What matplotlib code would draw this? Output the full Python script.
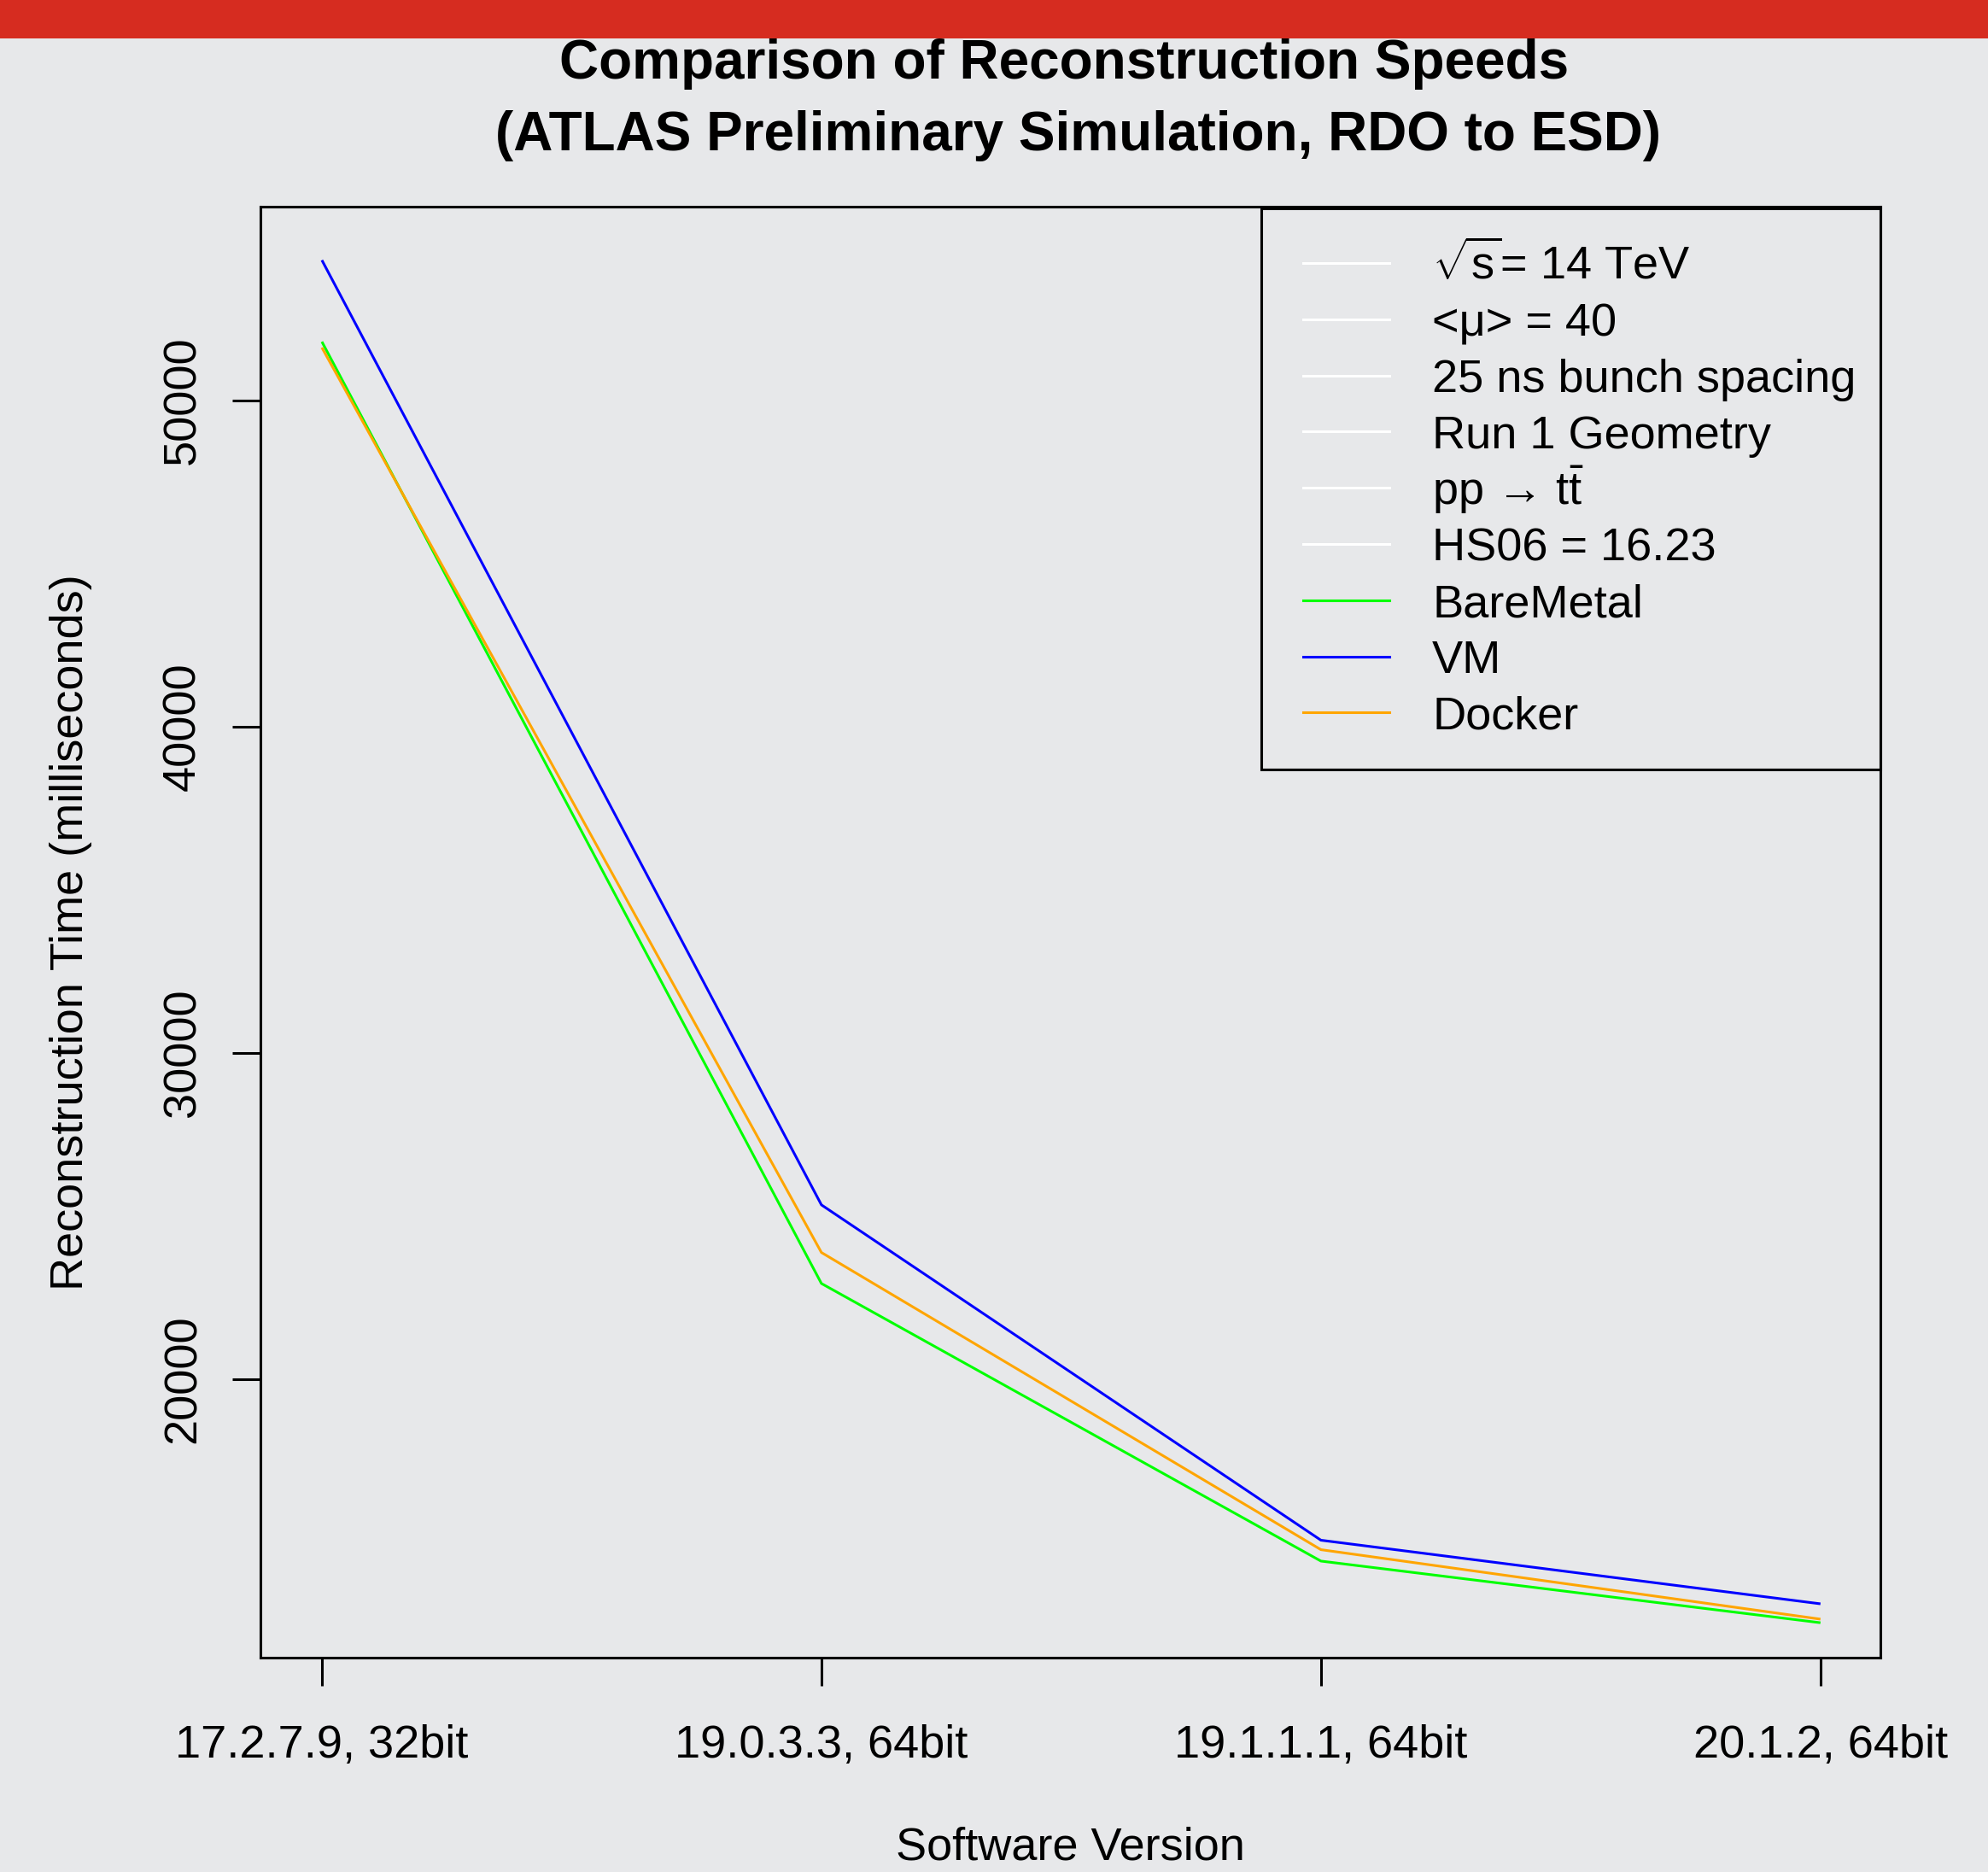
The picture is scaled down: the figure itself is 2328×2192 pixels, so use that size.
import matplotlib
matplotlib.use("Agg")
import matplotlib.pyplot as plt
from matplotlib.lines import Line2D
from matplotlib.patches import Rectangle

# ---------------- data ----------------
versions = ["17.2.7.9, 32bit", "19.0.3.3, 64bit", "19.1.1.1, 64bit", "20.1.2, 64bit"]
baremetal = [51800, 22930, 14420, 12530]
vm = [54300, 25340, 15060, 13110]
docker = [51620, 23880, 14770, 12640]
y_ticks = [20000, 30000, 40000, 50000]

info_labels = [r"$\sqrt{\mathrm{s}}$= 14 TeV", "<\u03bc> = 40", "25 ns bunch spacing",
               "Run 1 Geometry", "pp \u2192 t$\\bar{\\mathrm{t}}$", "HS06 = 16.23"]
series_labels = ["BareMetal", "VM", "Docker"]
series_colors = ["#00FF00", "#0000FF", "#FFA500"]

title_lines = ["Comparison of Reconstruction Speeds",
               "(ATLAS Preliminary Simulation, RDO to ESD)"]

# ---------------- style ----------------
W, H = 2328, 2192
BG = "#E7E8EA"
plt.rcParams["font.family"] = ["Liberation Sans", "DejaVu Sans"]
plt.rcParams["mathtext.fontset"] = "custom"
plt.rcParams["mathtext.rm"] = "Liberation Sans"
plt.rcParams["mathtext.it"] = "Liberation Sans:italic"
plt.rcParams["mathtext.bf"] = "Liberation Sans:bold"

FS = 39
LW = 2.2

def fx(x):
    return x / W

def fy(y):
    return 1 - y / H

fig = plt.figure(figsize=(W / 100, H / 100), dpi=100, facecolor=BG)

# red banner at top
fig.patches.append(Rectangle((0, fy(45)), 1, 45 / H, transform=fig.transFigure,
                             facecolor="#D62C20", edgecolor="none", zorder=0))

ax_l, ax_r, ax_t, ax_b = 305, 2202, 242, 1941
ax = fig.add_axes([fx(ax_l), fy(ax_b), (ax_r - ax_l) / W, (ax_b - ax_t) / H])
ax.set_facecolor(BG)

xs = list(range(1, len(versions) + 1))
ax.plot(xs, baremetal, color=series_colors[0], lw=LW, solid_capstyle="butt", zorder=3)
ax.plot(xs, vm, color=series_colors[1], lw=LW, solid_capstyle="butt", zorder=3)
ax.plot(xs, docker, color=series_colors[2], lw=LW, solid_capstyle="butt", zorder=3)

ax.set_xlim(0.877, 4.12)
ax.set_ylim(11460, 55940)

ax.set_xticks(xs)
ax.set_xticklabels(versions, fontsize=FS)
ax.set_yticks(y_ticks)
ax.set_yticklabels([str(v) for v in y_ticks], fontsize=FS, rotation=90, va="center")
ax.tick_params(axis="both", direction="out", length=24, width=LW, color="black")
ax.tick_params(axis="x", pad=32)
ax.tick_params(axis="y", pad=23)
for s in ax.spines.values():
    s.set_linewidth(LW)
    s.set_color("black")

ax.set_xlabel("Software Version", fontsize=FS)
ax.xaxis.set_label_coords(0.5, (ax_b - 2138) / (ax_b - ax_t))
ax.set_ylabel("Reconstruction Time (milliseconds)", fontsize=FS)
ax.yaxis.set_label_coords((108 - ax_l) / (ax_r - ax_l), 0.5)

# title
for line, base, cx in zip(title_lines, [92, 176], [1246, 1262]):
    fig.text(fx(cx), fy(base), line, fontsize=46, fontweight="bold",
             ha="center", va="baseline")

# legend (manual, R-style)
fig.patches.append(Rectangle((fx(1477), fy(901)), (2202 - 1477) / W, (901 - 244) / H,
                             transform=fig.transFigure, facecolor="none",
                             edgecolor="black", lw=LW, zorder=5))
labels = info_labels + series_labels
colors = ["white"] * len(info_labels) + series_colors
row0, step = 308, 65.8
for i, (lab, col) in enumerate(zip(labels, colors)):
    yy = row0 + i * step
    fig.lines.append(Line2D([fx(1526), fx(1627)], [fy(yy), fy(yy)],
                            transform=fig.transFigure, color=col, lw=LW, zorder=6))
    fig.text(fx(1677), fy(yy + 19.5), lab, fontsize=FS, ha="left", va="baseline")

fig.savefig("out.png", dpi=100, facecolor=BG)
